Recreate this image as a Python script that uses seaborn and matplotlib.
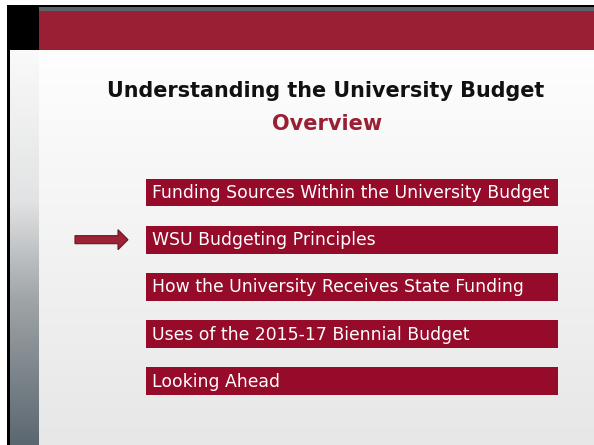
import numpy as np
import pandas as pd
import seaborn as sns
import matplotlib
matplotlib.use("Agg")
import matplotlib.pyplot as plt
import matplotlib.patches as mpatches
from matplotlib.colors import LinearSegmentedColormap

# ---- content ----
title_text = "Understanding the University Budget"
subtitle_text = "Overview"
items = [
    "Funding Sources Within the University Budget",
    "WSU Budgeting Principles",
    "How the University Receives State Funding",
    "Uses of the 2015-17 Biennial Budget",
    "Looking Ahead",
]
item_lengths = [1, 1, 1, 1, 1]
current_item = 1  # arrow points at this agenda item

RED_BAND = "#9a1f34"
BAR_RED = "#960a2a"
ARROW_RED = "#9b2335"
TITLE_RED = "#9a1f34"

sns.set_theme(style="white")
plt.rcParams["font.family"] = ["DejaVu Sans"]

W, H = 594, 445
fig = plt.figure(figsize=(W / 100, H / 100), dpi=100)
fig.patch.set_facecolor("white")

# background axes in pixel coordinates
bg = fig.add_axes([0, 0, 1, 1])
bg.set_xlim(0, W)
bg.set_ylim(H, 0)
bg.axis("off")

# main slide gradient
main_cmap = LinearSegmentedColormap.from_list("main", ["#fefefe", "#e7e7e7"])
grad = np.linspace(0, 1, 256).reshape(-1, 1)
bg.imshow(grad, cmap=main_cmap, extent=[39, W, H, 50], aspect="auto", zorder=0)

# left gradient column
left_cmap = LinearSegmentedColormap.from_list(
    "left", [(0.0, "#fafafa"), (0.38, "#e2e3e4"), (0.63, "#a0a5a8"), (1.0, "#5b6770")])
bg.imshow(grad, cmap=left_cmap, extent=[10, 39, H, 50], aspect="auto", zorder=0)

# top border lines and band
bg.add_patch(mpatches.Rectangle((7, 5), W - 7, 2.2, fc="black", ec="none", zorder=1))
bg.add_patch(mpatches.Rectangle((10, 7.2), W - 10, 3.8, fc="#5a6268", ec="none", zorder=1))
bg.add_patch(mpatches.Rectangle((39, 11), W - 39, 39, fc=RED_BAND, ec="none", zorder=1))
bg.add_patch(mpatches.Rectangle((7, 5), 32, 45, fc="black", ec="none", zorder=2))
bg.add_patch(mpatches.Rectangle((7, 5), 3, H - 5, fc="black", ec="none", zorder=2))

# titles
bg.text(325.5, 97.3, title_text, ha="center", va="baseline", fontsize=14.95,
        fontweight="bold", color="#111111", zorder=3)
bg.text(327.5, 130.5, subtitle_text, ha="center", va="baseline", fontsize=15.0,
        fontweight="bold", color=TITLE_RED, zorder=3)

# agenda bars via seaborn
df = pd.DataFrame({"item": items, "length": item_lengths})
top_c, spacing = 192.5, 47.19
y_top = top_c - spacing / 2
y_bot = top_c + 4 * spacing + spacing / 2
x_left, x_right = 146, 558
ax = fig.add_axes([x_left / W, 1 - y_bot / H, (x_right - x_left) / W, (y_bot - y_top) / H])
ax.patch.set_alpha(0)
sns.barplot(data=df, x="length", y="item", orient="h", color=BAR_RED,
            saturation=1, width=0.587, linewidth=0, ax=ax)
ax.set_xlim(0, 1)
ax.set_ylim(4.5, -0.5)
ax.axis("off")

for i, label in enumerate(df["item"]):
    ax.annotate(label, xy=(0, i), xytext=(6, -5.5), textcoords="offset pixels",
                ha="left", va="baseline", color="white", fontsize=12.45)

# arrow pointing to the current item
disp = ax.transData.transform((0, current_item))
yc = bg.transData.inverted().transform(disp)[1]
bg.add_patch(mpatches.FancyArrow(75, yc, 53, 0, width=8, head_width=20, head_length=10,
                                 length_includes_head=True, fc=ARROW_RED, ec="#6b1222",
                                 lw=0.8, zorder=3))

fig.savefig("out.png", dpi=100)
